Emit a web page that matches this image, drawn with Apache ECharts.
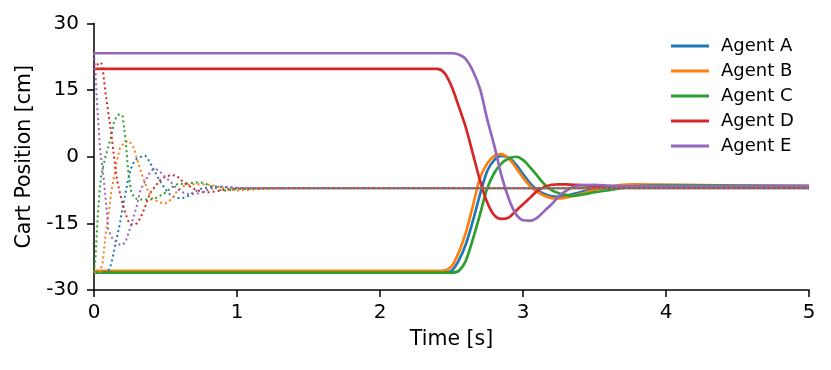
<!DOCTYPE html>
<html>
<head>
<meta charset="utf-8">
<script src="https://cdn.jsdelivr.net/npm/echarts@6/dist/echarts.min.js"></script>
<style>
html, body { margin: 0; padding: 0; background: #fff; }
#main { width: 831px; height: 370px; }
</style>
</head>
<body>
<div id="main"></div>
<script>
var agents = ['Agent A', 'Agent B', 'Agent C', 'Agent D', 'Agent E'];
var colors = ['#1f77b4', '#ff7f0e', '#2ca02c', '#d62728', '#9467bd'];

// solid lines: second run
var tSolid = [0, 2.4, 2.45, 2.5, 2.55, 2.6, 2.65, 2.7, 2.75, 2.8, 2.85, 2.9, 2.95, 3.0, 3.05,
              3.1, 3.15, 3.2, 3.25, 3.3, 3.35, 3.4, 3.5, 3.6, 3.7, 3.8, 4.0, 4.5, 5.0];
var solidA = [-26, -26, -26, -25.7, -23.4, -19.7, -14.4, -8.4, -3.2, -0.7, 0.2, -0.2, -1.7, -3.9, -6.0,
              -7.5, -8.4, -8.9, -9.0, -8.8, -8.4, -8.0, -7.3, -6.8, -6.5, -6.4, -6.5, -6.6, -6.6];
var solidB = [-25.7, -25.7, -25.6, -24.7, -21.6, -17.1, -11.0, -4.7, -1.5, 0.2, 0.6, -0.4, -2.4, -4.7, -6.6,
              -7.9, -8.8, -9.3, -9.4, -9.2, -8.8, -8.4, -7.5, -6.8, -6.3, -6.2, -6.3, -6.5, -6.6];
var solidC = [-26.1, -26.1, -26.1, -26.1, -25.7, -23.4, -18.5, -12.9, -7.1, -3.6, -1.5, -0.4, 0.0, -0.7, -2.4,
              -4.3, -6.2, -7.5, -8.2, -8.6, -8.8, -8.6, -8.0, -7.5, -7.0, -6.6, -6.4, -6.5, -6.6];
var solidD = [19.8, 19.8, 18.9, 15.9, 11.4, 6.6, 0.6, -5.4, -10.3, -13.2, -14.0, -13.7, -12.2, -10.7, -9.2,
              -7.7, -6.8, -6.3, -6.2, -6.2, -6.3, -6.4, -6.6, -6.7, -6.7, -6.7, -6.7, -6.7, -6.7];
var solidE = [23.3, 23.3, 23.3, 23.3, 23.0, 22.0, 19.3, 15.2, 8.4, 2.4, -4.3, -9.4, -12.9, -14.3, -14.4,
              -13.7, -12.2, -10.7, -8.9, -7.7, -6.8, -6.4, -6.3, -6.5, -6.6, -6.6, -6.6, -6.6, -6.6];

// dotted lines: first run
var tDot = [0, 0.01, 0.02, 0.03, 0.04, 0.05, 0.06, 0.08, 0.1, 0.12, 0.14, 0.16, 0.18, 0.2, 0.22,
            0.24, 0.26, 0.28, 0.3, 0.32, 0.34, 0.36, 0.38, 0.4, 0.43, 0.46, 0.5, 0.54, 0.58, 0.62,
            0.66, 0.7, 0.75, 0.8, 0.85, 0.9, 1.0, 1.2, 1.5, 2, 3, 4, 5];
var dotA = [-26, -26, -26, -26, -26, -26, -26, -26, -25.8, -24.2, -21.2, -18.2, -15.2, -11.5, -8.2,
            -4.9, -2.6, -1.1, -0.4, -0.1, 0.1, 0.2, -0.7, -1.8, -3.6, -5.4, -7.4, -8.8, -9.3, -9.3,
            -8.8, -7.9, -7.2, -6.9, -6.7, -6.8, -7.1, -7.1, -7.1, -7.1, -7.1, -7.1, -7.1];
var dotB = [-26, -26, -26, -26, -26, -25.8, -24, -18, -13.3, -8, -4.6, -1, 1.8, 2.7, 3.3,
            3.6, 3.0, 1.8, -0.4, -2.5, -4.5, -6.1, -8.0, -9.2, -9.8, -10.3, -10.5, -9.6, -7.8, -6.7,
            -6.3, -6.2, -6.2, -6.3, -6.6, -7.0, -7.6, -7.2, -7.1, -7.1, -7.1, -7.1, -7.1];
var dotC = [-26, -23, -17, -11.5, -7.5, -4.5, -2.8, 0, 2.2, 4.5, 7.8, 9.2, 9.6, 9.2, 4,
            -3.5, -7.8, -9.2, -9.5, -9.6, -9.6, -9.6, -9.6, -9.6, -9.3, -8.8, -8.1, -7.0, -6.2, -6.1,
            -6.0, -5.8, -5.8, -6.3, -7.0, -7.7, -7.3, -7.1, -7.1, -7.1, -7.1, -7.1, -7.1];
var dotD = [19.8, 20.5, 20.8, 20.9, 21.0, 21.2, 20.0, 14.5, 9.9, 5.5, 0, -5.0, -8.0, -10.5, -12.8,
            -14.5, -15.2, -15.3, -15.0, -14.0, -12.7, -11, -9.2, -7.8, -6.6, -5.3, -4.5, -4.1, -4.3, -5.6,
            -6.5, -7.2, -7.9, -8.0, -7.8, -7.5, -7.1, -7.1, -7.1, -7.1, -7.1, -7.1, -7.1];
var dotE = [23.3, 19.5, 12.5, 8, 2.5, -0.3, -2.5, -9, -16.3, -18, -18.8, -19.2, -19.8, -19.8, -19.2,
            -17.3, -15.3, -13.2, -11, -8.0, -6.5, -5.4, -4.2, -3.1, -2.7, -3.3, -4.6, -5.8, -7.2, -8.0,
            -8.4, -8.4, -8.1, -7.4, -6.9, -6.7, -7.0, -7.1, -7.1, -7.1, -7.1, -7.1, -7.1];

var solidData = [solidA, solidB, solidC, solidD, solidE];
var dotData = [dotA, dotB, dotC, dotD, dotE];

function pairs(t, v)
{
    return t.map(function (x, i) { return [x, v[i]]; });
}

var font = 'DejaVu Sans';
var series = [];
for (var i = 0; i < agents.length; i++)
{
    series.push({
        name: agents[i],
        type: 'line',
        data: pairs(tSolid, solidData[i]),
        symbol: 'none',
        smooth: 0.3,
        lineStyle: { color: colors[i], width: 2.7 },
        itemStyle: { color: colors[i] },
        z: 2
    });
}
for (var j = 0; j < agents.length; j++)
{
    series.push({
        name: agents[j] + ' (start)',
        type: 'line',
        data: pairs(tDot, dotData[j]),
        symbol: 'none',
        lineStyle: { color: colors[j], width: 2, type: [2, 3] },
        itemStyle: { color: colors[j] },
        z: 3
    });
}

var myChart = echarts.init(document.getElementById('main'));

var option =
{
    animation: false,
    backgroundColor: '#fff',
    grid: { left: 94, right: 22, top: 23.5, bottom: 80 },
    legend:
    {
        data: agents,
        orient: 'vertical',
        left: 671,
        top: 37,
        icon: 'rect',
        itemWidth: 38,
        itemHeight: 3,
        itemGap: 7,
        padding: 0,
        textStyle: { fontFamily: font, fontSize: 18, color: '#000', padding: [0, 0, 0, 7] }
    },
    xAxis:
    {
        type: 'value',
        min: 0,
        max: 5,
        interval: 1,
        name: 'Time [s]',
        nameLocation: 'middle',
        nameGap: 39,
        nameTextStyle: { fontFamily: font, fontSize: 20.5, color: '#000' },
        axisLine: { onZero: false, lineStyle: { color: '#000', width: 1.5 } },
        axisTick: { length: 7, lineStyle: { color: '#000', width: 1.5 } },
        axisLabel: { fontFamily: font, fontSize: 20, color: '#000', margin: 13 },
        splitLine: { show: false }
    },
    yAxis:
    {
        type: 'value',
        min: -30,
        max: 30,
        interval: 15,
        name: 'Cart Position [cm]',
        nameLocation: 'middle',
        nameGap: 59,
        nameTextStyle: { fontFamily: font, fontSize: 20.5, color: '#000' },
        axisLine: { show: true, onZero: false, lineStyle: { color: '#000', width: 1.5 } },
        axisTick: { show: true, length: 7, lineStyle: { color: '#000', width: 1.5 } },
        axisLabel: { fontFamily: font, fontSize: 20, color: '#000', margin: 15 },
        splitLine: { show: false }
    },
    series: series
};

myChart.setOption(option);
</script>
</body>
</html>
